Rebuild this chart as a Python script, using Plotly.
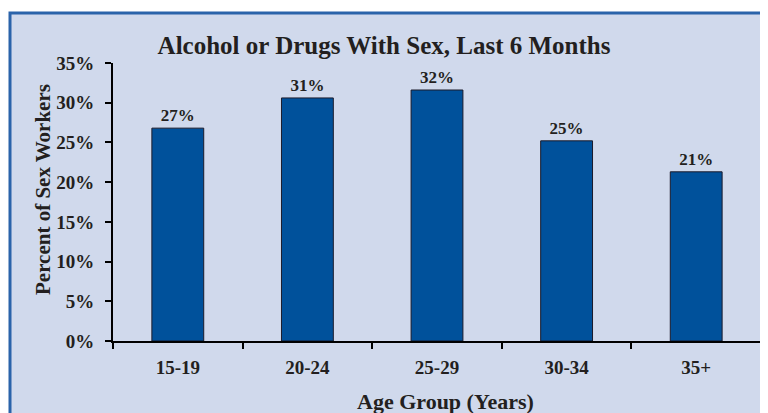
import plotly.graph_objects as go

categories = ["15-19", "20-24", "25-29", "30-34", "35+"]
values = [26.8, 30.6, 31.6, 25.2, 21.3]
labels = ["27%", "31%", "32%", "25%", "21%"]
y_ticks = [0, 5, 10, 15, 20, 25, 30, 35]
y_tick_text = ["0%", "5%", "10%", "15%", "20%", "25%", "30%", "35%"]

FONT = "Liberation Serif"
TXT = "#231F20"

fig = go.Figure(go.Bar(
    x=categories, y=values, text=labels, textposition="outside",
    textfont=dict(family=FONT, size=17, color=TXT),
    marker=dict(color="#00519B", line=dict(color="#1B1B2B", width=1)),
    width=0.4, cliponaxis=False,
))

# page body has an 8px margin, so the figure is offset by 8px
OFF = 8
W, H = 768 - OFF, 413 - OFF
L, R, T, B = 113 - OFF, 7, 63 - OFF, 72
pw, ph = W - L - R, H - T - B


def px_x(p):
    return (p - OFF - L) / pw


def px_y(p):
    return 1 - (p - OFF - T) / ph


fig.add_shape(type="rect", xref="paper", yref="paper",
              x0=px_x(10), x1=1.2, y0=-0.5, y1=px_y(13),
              fillcolor="#D0D9EC", line=dict(color="#2A63AA", width=3), layer="below")

fig.add_annotation(text="<b>Age Group (Years)</b>", xref="paper", yref="paper",
                   x=px_x(446), y=px_y(401), xanchor="center", yanchor="middle", showarrow=False,
                   font=dict(family=FONT, size=22, color=TXT))
fig.add_annotation(text="<b>Percent of Sex Workers</b>", xref="paper", yref="paper",
                   x=px_x(43), y=px_y(190), xanchor="center", yanchor="middle", showarrow=False,
                   textangle=-90, font=dict(family=FONT, size=21, color=TXT))

fig.update_layout(
    width=W, height=H,
    margin=dict(l=L, r=R, t=T, b=B, autoexpand=False),
    paper_bgcolor="white", plot_bgcolor="rgba(0,0,0,0)",
    title=dict(text="<b>Alcohol or Drugs With Sex, Last 6 Months</b>", x=(384 - OFF) / W, xanchor="center",
               y=1 - (45 - OFF) / H, yanchor="middle",
               font=dict(family=FONT, size=25, color=TXT)),
    showlegend=False,
    font=dict(family=FONT, color=TXT),
)
fig.update_xaxes(
    type="category", tickson="boundaries", ticks="outside", ticklen=6, tickwidth=2, tickcolor="black",
    showline=True, linecolor="black", linewidth=2, showgrid=False, automargin=False,
    tickfont=dict(family=FONT, size=19, color=TXT), ticklabelstandoff=8,
    tickprefix="<b>", ticksuffix="</b>",
)
fig.update_yaxes(
    range=[0, 35], tickvals=y_ticks, ticktext=["<b>" + t + "</b>" for t in y_tick_text],
    ticks="outside", ticklen=6, tickwidth=2, tickcolor="black", automargin=False,
    showline=True, linecolor="black", linewidth=2, showgrid=False, zeroline=False,
    tickfont=dict(family=FONT, size=19, color=TXT), ticklabelstandoff=7,
)
fig.update_traces(texttemplate="<b>%{text}</b>")

fig.write_html("out.html")
